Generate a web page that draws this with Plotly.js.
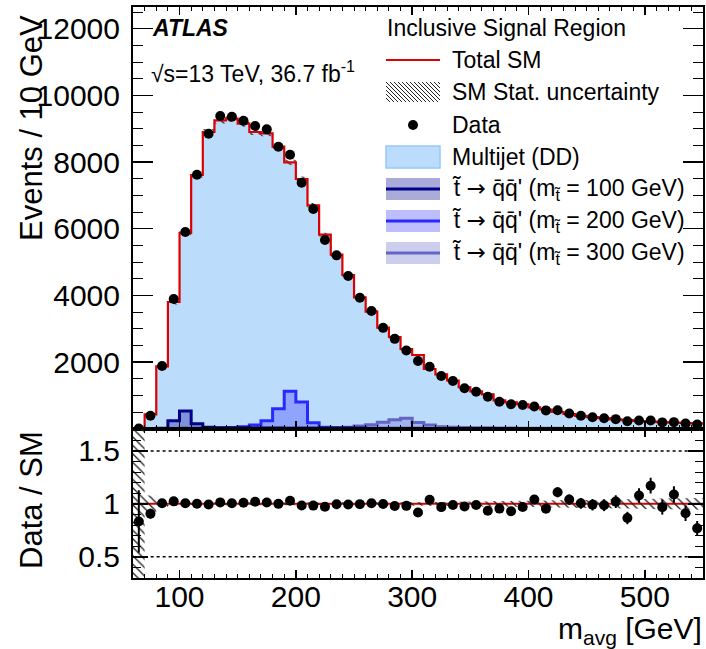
<!DOCTYPE html>
<html><head><meta charset="utf-8">
<script src="https://cdn.plot.ly/plotly-3.0.1.min.js"></script>
<style>html,body{margin:0;padding:0;background:#fff}</style>
</head><body><div id="chart" style="width:706px;height:649px"></div>
<script>
// ---- data (10 GeV bins from 60 to 550 GeV) ----
const binEdges = [60,70,80,90,100,110,120,130,140,150,160,170,180,190,200,210,220,230,240,250,260,270,280,290,300,310,320,330,340,350,360,370,380,390,400,410,420,430,440,450,460,470,480,490,500,510,520,530,540,550];
const totalSM = [9.6,430,1870,3800,5870,7610,8900,9250,9300,9150,8900,8860,8460,7990,7490,6700,5820,5220,4610,3940,3510,3030,2750,2390,2210,1790,1630,1445,1243,1121,1027,848,787,733,640,575,500,440,385,345,315,280,255,230,210,195,180,170,160];
const multijetDD = totalSM; // data-driven multijet is the whole SM prediction here
const dataCounts = [8,390,1880,3890,5900,7620,8850,9380,9360,9240,9080,8980,8460,8220,7380,6590,5660,5200,4580,3930,3530,3025,2695,2345,2030,1860,1580,1430,1212,1110,960,810,732,711,666,549,555,458,387,342,311,286,221,248,246,189,196,155,123];
const smStatRel = [1.0,0.08,0.03,0.02,0.012,0.01,0.01,0.01,0.01,0.01,0.01,0.01,0.01,0.01,0.01,0.01,0.01,0.01,0.012,0.012,0.012,0.012,0.014,0.015,0.015,0.017,0.018,0.02,0.02,0.022,0.024,0.026,0.028,0.03,0.03,0.032,0.034,0.036,0.038,0.04,0.04,0.042,0.044,0.046,0.048,0.05,0.05,0.052,0.055];
const sig100 = [0,0,10,240,530,150,45,30,25,25,20,20,20,15,15,15,10,10,10,10,8,8,8,6,6,5,5,5,5,5,5,5,5,4,4,4,4,4,4,3,3,3,3,3,3,3,3,3,3];
const sig200 = [0,0,5,8,10,12,15,20,25,60,110,240,600,1120,800,175,45,30,25,20,15,15,12,10,10,8,8,6,6,5,5,5,5,5,4,4,4,4,4,4,3,3,3,3,3,3,3,3,3];
const sig300 = [2,2,3,4,5,6,8,8,10,10,12,12,15,15,18,20,25,35,45,80,120,195,270,310,185,110,60,45,35,30,25,20,18,15,12,10,10,8,8,6,6,5,5,5,4,4,4,3,3];
const xTickVals = [100,200,300,400,500];
const xTickText = ['100','200','300','400','500'];
const yTickVals = [2000,4000,6000,8000,10000,12000];
const yTickText = ['2000','4000','6000','8000','10000','12000'];
const rTickVals = [0.5,1,1.5];
const rTickText = ['0.5','1','1.5'];
const ARROW = '<span style="font-family:DejaVu Sans">\u2192</span>';
const legendLabels = ['Total SM','SM Stat. uncertainty','Data','Multijet (DD)',
  "t\u0303 " + ARROW + " q\u0304q\u0304' (m<sub>t\u0303</sub> = 100 GeV)",
  "t\u0303 " + ARROW + " q\u0304q\u0304' (m<sub>t\u0303</sub> = 200 GeV)",
  "t\u0303 " + ARROW + " q\u0304q\u0304' (m<sub>t\u0303</sub> = 300 GeV)"];

// ---- helpers ----
const FONT = 'Liberation Sans, Arial, Helvetica, sans-serif';
function stepY(v){ return v.concat([v[v.length-1]]); }
function bandPoly(center, rel){
  const xs=[], ys=[];
  for(let i=0;i<center.length;i++){ xs.push(binEdges[i],binEdges[i+1]); ys.push(center[i]*(1+rel[i]),center[i]*(1+rel[i])); }
  for(let i=center.length-1;i>=0;i--){ xs.push(binEdges[i+1],binEdges[i]); ys.push(center[i]*(1-rel[i]),center[i]*(1-rel[i])); }
  return {x:xs,y:ys};
}
const centers = totalSM.map((_,i)=>(binEdges[i]+binEdges[i+1])/2);
const ratio = dataCounts.map((d,i)=>d/totalSM[i]);
const ratioErr = dataCounts.map((d,i)=>Math.sqrt(d)/totalSM[i]);
const ones = totalSM.map(()=>1);

const C = {
  mj:'rgb(188,220,252)', mjLine:'rgb(150,200,250)', red:'#dd0000',
  s100:'rgb(0,0,140)', s100f:'rgba(0,0,140,0.33)',
  s200:'rgb(40,40,255)', s200f:'rgba(40,40,255,0.30)',
  s300:'rgb(100,100,200)', s300f:'rgba(100,100,200,0.32)'
};
const hatch = {shape:'\\', size:6, solidity:0.22, fgcolor:'#222', bgcolor:'rgba(0,0,0,0)'};

const mainBand = bandPoly(totalSM, smStatRel);
const ratioBand = bandPoly(ones, smStatRel);

const traces = [
  {x:binEdges, y:stepY(multijetDD), type:'scatter', mode:'lines', line:{shape:'hv', color:C.mjLine, width:1}, fill:'tozeroy', fillcolor:C.mj, xaxis:'x', yaxis:'y', hoverinfo:'skip'},
  {x:binEdges, y:stepY(sig300), type:'scatter', mode:'lines', line:{shape:'hv', color:C.s300, width:3}, fill:'tozeroy', fillcolor:C.s300f, xaxis:'x', yaxis:'y'},
  {x:binEdges, y:stepY(sig200), type:'scatter', mode:'lines', line:{shape:'hv', color:C.s200, width:3}, fill:'tozeroy', fillcolor:C.s200f, xaxis:'x', yaxis:'y'},
  {x:binEdges, y:stepY(sig100), type:'scatter', mode:'lines', line:{shape:'hv', color:C.s100, width:3}, fill:'tozeroy', fillcolor:C.s100f, xaxis:'x', yaxis:'y'},
  {x:mainBand.x, y:mainBand.y, type:'scatter', mode:'lines', line:{width:0}, fill:'toself', fillcolor:'rgba(0,0,0,0)', fillpattern:hatch, xaxis:'x', yaxis:'y'},
  {x:binEdges, y:stepY(totalSM), type:'scatter', mode:'lines', line:{shape:'hv', color:C.red, width:2.2}, xaxis:'x', yaxis:'y'},
  {x:centers, y:dataCounts, type:'scatter', mode:'markers', marker:{color:'black', size:10}, xaxis:'x', yaxis:'y'},
  {x:ratioBand.x, y:ratioBand.y, type:'scatter', mode:'lines', line:{width:0}, fill:'toself', fillcolor:'rgba(0,0,0,0)', fillpattern:hatch, xaxis:'x2', yaxis:'y2'},
  {x:centers, y:ratio, type:'scatter', mode:'markers', marker:{color:'black', size:10},
   error_y:{type:'data', array:ratioErr, visible:true, color:'black', thickness:2, width:0}, xaxis:'x2', yaxis:'y2'}
];

// ---- layout helpers (pixel -> paper) ----
const L=133, R=703, T=7, B=578;
const px = x => (x-L)/(R-L);
const py = y => 1-(y-T)/(B-T);

const shapes = [
  {type:'line', xref:'x2', yref:'y2', x0:binEdges[0], x1:binEdges[binEdges.length-1], y0:1, y1:1, line:{color:C.red, width:2}, layer:'below'},
  {type:'line', xref:'x2', yref:'y2', x0:binEdges[1], x1:binEdges[binEdges.length-2], y0:1.5, y1:1.5, line:{color:'black', width:1.5, dash:'dot'}, layer:'below'},
  {type:'line', xref:'x2', yref:'y2', x0:binEdges[1], x1:binEdges[binEdges.length-2], y0:0.5, y1:0.5, line:{color:'black', width:1.5, dash:'dot'}, layer:'below'}
];
const annotations = [];
function ann(text, x, y, size, opts){ annotations.push(Object.assign({text:text, xref:'paper', yref:'paper', x:px(x), y:py(y), xanchor:'left', yanchor:'middle', showarrow:false, font:{family:FONT, size:size, color:'black'}}, opts||{})); }

// legend
const legX0=386, legX1=440, legTX=450;
const rowY = [28, 60, 92, 125, 157, 189, 221, 253];
ann('Inclusive Signal Region', 385, rowY[0], 23);
shapes.push({type:'line', xref:'paper', yref:'paper', x0:px(legX0), x1:px(legX1), y0:py(rowY[1]), y1:py(rowY[1]), line:{color:C.red, width:2}});
(function(){
  const y0=rowY[2]-10, y1=rowY[2]+10; let d='';
  for(let c=legX0-20; c<legX1; c+=4){
    let xa=Math.max(c,legX0), xb=Math.min(c+(y1-y0),legX1);
    if(xb<=xa) continue;
    const ya=y0+(xa-c), yb=y0+(xb-c);
    d+=`M${px(xa)},${py(ya)}L${px(xb)},${py(yb)}`;
  }
  shapes.push({type:'path', xref:'paper', yref:'paper', path:d, line:{color:'#222', width:1}});
})();
shapes.push({type:'circle', xref:'paper', yref:'paper', x0:px(408), x1:px(418), y0:py(rowY[3]-5), y1:py(rowY[3]+5), fillcolor:'black', line:{color:'black', width:0}});
shapes.push({type:'rect', xref:'paper', yref:'paper', x0:px(legX0), x1:px(legX1), y0:py(rowY[4]-11), y1:py(rowY[4]+11), fillcolor:C.mj, line:{color:C.mjLine, width:1.5}});
[[C.s100,C.s100f],[C.s200,C.s200f],[C.s300,C.s300f]].forEach((c,k)=>{
  const yy=rowY[5+k];
  shapes.push({type:'rect', xref:'paper', yref:'paper', x0:px(legX0), x1:px(legX1), y0:py(yy-11), y1:py(yy+11), fillcolor:c[1], line:{width:0}});
  shapes.push({type:'line', xref:'paper', yref:'paper', x0:px(legX0), x1:px(legX1), y0:py(yy), y1:py(yy), line:{color:c[0], width:3}});
});
legendLabels.forEach((t,k)=>ann(t, legTX, rowY[k+1], 23));

// ATLAS labels
ann('<b><i>ATLAS</i></b>', 150, 28, 23);
ann('\u221As=13 TeV, 36.7 fb<sup>-1</sup>', 149, 72, 23);
// axis titles
ann('Events / 10 GeV', 31, 13, 31, {textangle:-90, xanchor:'center', yanchor:'top'});
ann('Data / SM', 31, 500, 31, {textangle:-90, xanchor:'center', yanchor:'middle'});
ann('m<sub>avg</sub> [GeV]', 704, 631, 30, {xanchor:'right'});

const axisCommon = {showline:true, linecolor:'black', linewidth:2, mirror:'ticks', ticks:'inside', tickcolor:'black', tickwidth:1.5, showgrid:false, zeroline:false};
const layout = {
  width:706, height:649,
  margin:{l:L, r:706-R, t:T, b:649-B, pad:0},
  paper_bgcolor:'white', plot_bgcolor:'white',
  showlegend:false, hovermode:false,
  font:{family:FONT, size:30, color:'black'},
  xaxis:Object.assign({}, axisCommon, {domain:[0,1], anchor:'y', range:[60,550], tickmode:'array', tickvals:xTickVals, showticklabels:false, ticklen:8,
    minor:{tickmode:'linear', tick0:0, dtick:10, ticklen:4, tickwidth:1, tickcolor:'black', ticks:'inside'}}),
  yaxis:Object.assign({}, axisCommon, {domain:[0.2615,1], anchor:'x', range:[0,12650], tickmode:'array', tickvals:yTickVals, ticktext:yTickText, ticklen:20,
    tickfont:{family:FONT, size:30}, ticklabelstandoff:5,
    minor:{tickmode:'linear', tick0:0, dtick:500, ticklen:10, tickwidth:1, tickcolor:'black', ticks:'inside'}}),
  xaxis2:Object.assign({}, axisCommon, {domain:[0,1], anchor:'y2', range:[60,550], tickmode:'array', tickvals:xTickVals, ticktext:xTickText, ticklen:8,
    tickfont:{family:FONT, size:30}, ticklabelstandoff:-9,
    minor:{tickmode:'linear', tick0:0, dtick:10, ticklen:4, tickwidth:1, tickcolor:'black', ticks:'inside'}}),
  yaxis2:Object.assign({}, axisCommon, {domain:[0,0.2615], anchor:'x2', range:[0.3,1.71], tickmode:'array', tickvals:rTickVals, ticktext:rTickText, ticklen:15,
    tickfont:{family:FONT, size:30}, ticklabelstandoff:5,
    minor:{tickmode:'linear', tick0:0, dtick:0.1, ticklen:8, tickwidth:1, tickcolor:'black', ticks:'inside'}}),
  shapes:shapes, annotations:annotations
};
Plotly.newPlot('chart', traces, layout, {staticPlot:true, displayModeBar:false});
</script></body></html>
